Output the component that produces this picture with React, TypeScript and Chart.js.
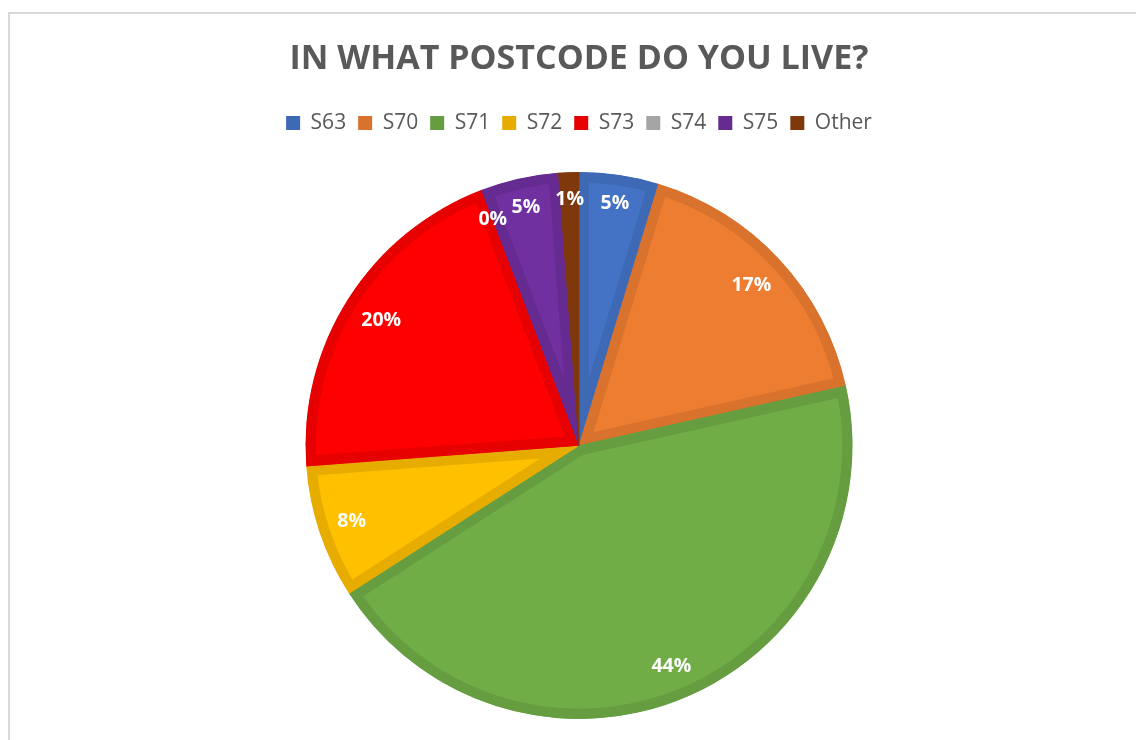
import React, { useEffect, useRef } from "react";
import { Chart, registerables } from "chart.js";

Chart.register(...registerables);

const titleText = "IN WHAT POSTCODE DO YOU LIVE?";
const categories = ["S63", "S70", "S71", "S72", "S73", "S74", "S75", "Other"];
const shares = [4.7, 16.8, 44.4, 7.9, 20.4, 0, 4.6, 1.2];
const fillColors = ["#4472C4", "#ED7D31", "#70AD47", "#FFC000", "#FF0000", "#A5A5A5", "#7030A0", "#8A3E0E"];
const edgeColors = ["#3D69B5", "#D8722C", "#659D40", "#E6AD00", "#E60000", "#A5A5A5", "#652B90", "#7E380C"];

const LABEL_FONT = "bold 19.5px 'Open Sans'";

const sliceLabels = {
  id: "sliceLabels",
  afterDatasetsDraw(chart: any) {
    const meta = chart.getDatasetMeta(0);
    const data = chart.data.datasets[0].data as number[];
    const total = data.reduce((a, b) => a + b, 0);
    const ctx = chart.ctx;
    ctx.save();
    ctx.font = LABEL_FONT;
    ctx.fillStyle = "#FFFFFF";
    ctx.textAlign = "center";
    ctx.textBaseline = "middle";
    meta.data.forEach((arc: any, i: number) => {
      const p = arc.getProps(["x", "y", "startAngle", "endAngle", "outerRadius"], true);
      const mid = (p.startAngle + p.endAngle) / 2;
      const txt = Math.round((data[i] / total) * 100) + "%";
      const w = ctx.measureText(txt).width;
      const h = 20;
      const c = Math.cos(mid);
      const s = Math.sin(mid);
      const d = p.outerRadius - 17 - (Math.abs(c) * w) / 2 - (Math.abs(s) * h) / 2;
      ctx.fillText(txt, p.x + c * d, p.y + s * d);
    });
    ctx.restore();
  },
};

const legendGap = {
  id: "legendGap",
  beforeInit(chart: any) {
    const legend = chart.legend;
    if (!legend) return;
    const orig = legend.fit;
    legend.fit = function () {
      orig.call(this);
      this.height += 28.5;
    };
  },
};

export default function App() {
  const ref = useRef<HTMLCanvasElement | null>(null);
  useEffect(() => {
    if (!ref.current) return;
    const chart = new Chart(ref.current, {
      type: "pie",
      data: {
        labels: categories,
        datasets: [
          {
            data: shares,
            backgroundColor: fillColors,
            borderColor: edgeColors,
            borderWidth: 10,
            borderAlign: "inner",
          } as any,
        ],
      },
      options: {
        animation: false,
        responsive: false,
        maintainAspectRatio: false,
        layout: { padding: { left: 22, right: 0, top: 0, bottom: 21 } },
        plugins: {
          title: {
            display: true,
            text: titleText,
            color: "#595959",
            font: { family: "'Open Sans'", size: 34, weight: "bold" },
            padding: { top: 39, bottom: 20.7 },
          },
          legend: {
            display: true,
            position: "top",
            labels: {
              color: "#595959",
              font: { family: "'Open Sans'", size: 21 },
              boxWidth: 14,
              boxHeight: 14,
              padding: 12,
              generateLabels: () =>
                categories.map((t, i) => ({
                  text: t,
                  fillStyle: edgeColors[i],
                  strokeStyle: edgeColors[i],
                  lineWidth: 0,
                  hidden: false,
                  index: i,
                  fontColor: "#595959",
                })),
            },
          },
          tooltip: { enabled: false },
        },
      },
      plugins: [legendGap, sliceLabels],
    });
    return () => chart.destroy();
  }, []);

  return (
    <div style={{ position: "fixed", left: 0, top: 0, width: 1136, height: 740, overflow: "hidden", background: "#fff" }}>
      <div
        style={{
          position: "absolute",
          left: 8,
          top: 12,
          width: 1300,
          height: 900,
          border: "2px solid #d9d9d9",
        }}
      />
      <canvas ref={ref} width={1136} height={740} style={{ position: "absolute", left: 0, top: 0, width: 1136, height: 740 }} />
    </div>
  );
}
